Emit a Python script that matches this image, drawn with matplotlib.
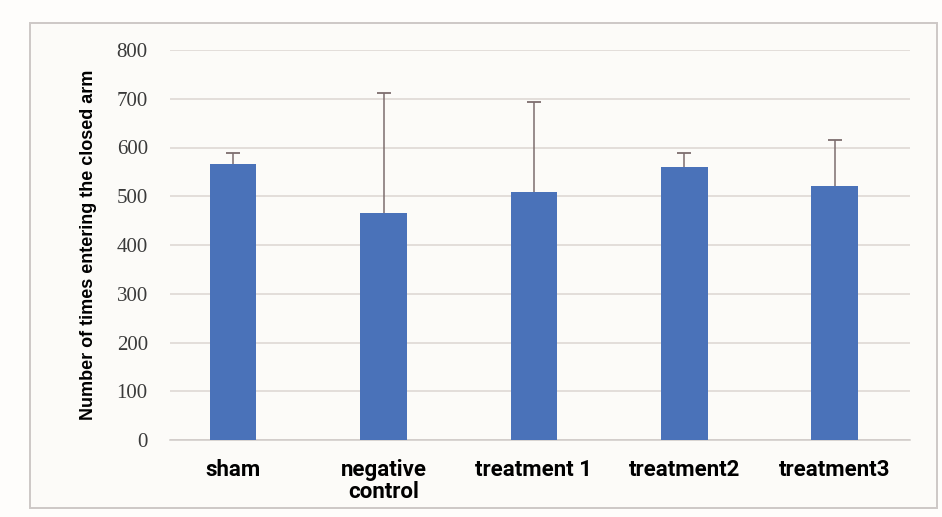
import matplotlib
matplotlib.use("Agg")
import matplotlib.pyplot as plt
from matplotlib.patches import Rectangle

groups = ["sham", "negative\ncontrol", "treatment 1", "treatment2", "treatment3"]
means = [566, 466, 509, 560, 521]
upper_err = [23, 246, 184, 29, 94]
yticks = [0, 100, 200, 300, 400, 500, 600, 700, 800]

fig = plt.figure(figsize=(9.42, 5.17), dpi=100)
fig.patch.set_facecolor("#fefdfb")

# outer frame of the chart area, kept behind the axes
frame = Rectangle((30 / 942, 1 - 508 / 517), 907 / 942, 485 / 517, transform=fig.transFigure,
                  facecolor="#fcfbf8", edgecolor="#cdc8c6", linewidth=1.4, zorder=-1)
fig.patches.append(frame)

ax = fig.add_axes([170 / 942, 1 - 440 / 517, 740 / 942, 390 / 517])
ax.set_facecolor("none")

x = list(range(len(groups)))
ax.bar(x, means, width=0.31, color="#4a72b9", zorder=3)

# upper-only error bars: whisker plus cap
tops = [m + e for m, e in zip(means, upper_err)]
ax.vlines(x, means, tops, color="#7d6e6e", linewidth=1.1, zorder=4)
ax.plot(x, tops, linestyle="none", marker="_", markersize=10, markeredgewidth=1.3,
        color="#7d6e6e", zorder=4)

ax.set_ylim(0, 800)
ax.set_xlim(-0.42, 4.5)
ax.set_yticks(yticks)
ax.set_yticklabels([str(v) for v in yticks], family="Liberation Serif",
                   fontsize=15, color="#3a3a3a")
ax.grid(axis="y", color="#dcd6d2", linewidth=1.1, zorder=0)
ax.tick_params(axis="y", length=0, pad=16)
ax.tick_params(axis="x", length=0, pad=14)
ax.set_xticks(x)
ax.set_xticklabels(groups, family="Roboto", fontweight="bold", fontsize=16,
                   linespacing=1.0)

for s in ["top", "right", "left"]:
    ax.spines[s].set_visible(False)
ax.spines["bottom"].set_color("#cfcac7")
ax.spines["bottom"].set_linewidth(1.1)

ax.set_ylabel("Number of times entering the closed arm", family="Liberation Sans",
              fontweight="bold", fontsize=13, labelpad=14)

fig.savefig("out.png", dpi=100)
